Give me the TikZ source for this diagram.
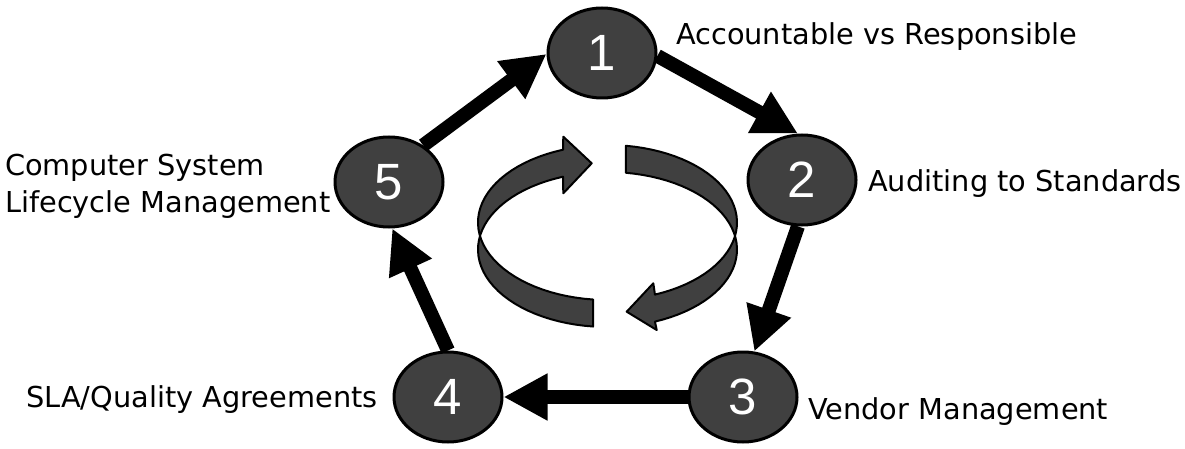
\documentclass[tikz,border=0pt]{standalone}
\usepackage{fontspec}
\usetikzlibrary{arrows.meta,shapes.geometric}
\newfontfamily\labelfont{DejaVu Sans}
\newfontfamily\numfont{Liberation Sans}
\definecolor{stepgray}{RGB}{64,64,64}

\begin{document}
\begin{tikzpicture}[x=1pt,y=-1pt,
	stepnode/.style={ellipse,draw=black,line width=3pt,fill=stepgray,text=white,minimum width=108pt,minimum height=90pt,inner sep=0pt,font=\numfont\fontsize{51}{51}\selectfont},
	steplabel/.style={inner sep=0pt,anchor=base west,align=left,font=\labelfont\fontsize{28.8}{36}\selectfont},
	flow/.style={line width=14pt,-{Triangle[length=44pt,width=44pt]}},
	ribbon/.style={fill=stepgray,draw=black,line width=2pt,line join=round}]
	\useasboundingbox (0,0) rectangle (1185,449);
	\node[stepnode] (S1) at (602,53) {1};
	\node[stepnode] (S2) at (802,180) {2};
	\node[stepnode] (S3) at (743,397) {3};
	\node[stepnode] (S4) at (448,397) {4};
	\node[stepnode] (S5) at (389,182) {5};
	\node[steplabel] (L1) at (676,45) {Accountable vs Responsible};
	\node[steplabel] (L2) at (868,192) {Auditing to Standards};
	\node[steplabel] (L3) at (808,419) {Vendor Management};
	\node[steplabel] (L4) at (26,407) {SLA/Quality Agreements};
	\node[steplabel] (L5) at (5,212) {Computer System\\Lifecycle Management};
	\draw[flow] (S5.47) -- (S1.181);
	\draw[flow] (S1.-3) -- (S2.95);
	\draw[flow] (S2.-95) -- (S3.76);
	\draw[flow] (S3.west) -- (S4.east);
	\draw[flow] (S4.north) -- (S5.-86);
	\draw[ribbon] plot[domain=96.4:249.9,samples=40] ({607.5+129.5*cos(\x)},{222.5+77.5*sin(\x)})
		-- (563.3,136.7) -- (591.7,163.3) -- (563.3,193.3)
		-- plot[domain=249.9:96.4,samples=40] ({607.5+129.5*cos(\x)},{249.5+77.5*sin(\x)}) -- cycle;
	\draw[ribbon] plot[domain=-81.8:68.5,samples=40] ({607.5+129.5*cos(\x)},{222.5+77.5*sin(\x)})
		-- (653.3,283.3) -- (626.7,311.7) -- (656.7,330)
		-- plot[domain=68.5:-81.8,samples=40] ({607.5+129.5*cos(\x)},{249.5+77.5*sin(\x)}) -- cycle;
\end{tikzpicture}
\end{document}
